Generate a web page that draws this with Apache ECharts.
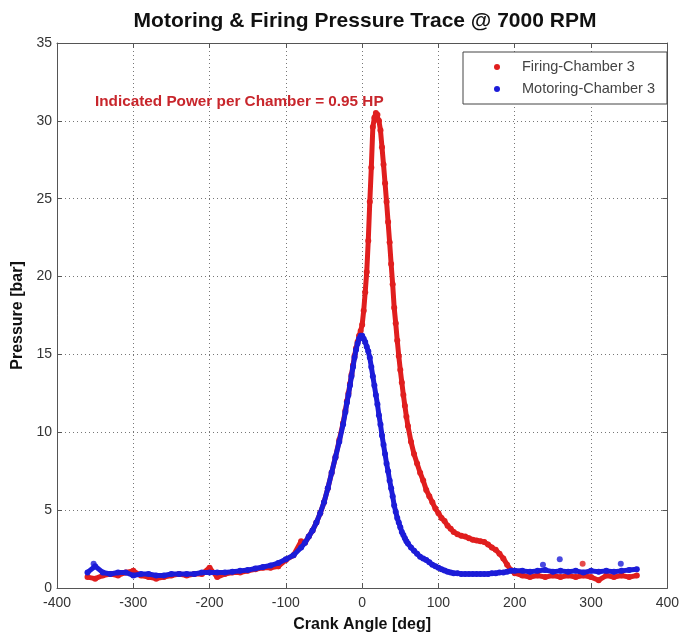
<!DOCTYPE html>
<html>
<head>
<meta charset="utf-8">
<script src="https://cdn.jsdelivr.net/npm/echarts@6/dist/echarts.min.js"></script>
<style>html,body{margin:0;padding:0;background:#fff}#c{width:682px;height:638px}</style>
</head>
<body>
<div id="c"></div>
<script>
// Crank angle samples [deg]
const angles = [
  -360,-350,-340,-330,-320,-310,-300,-290,-280,-270,-260,-250,-240,-230,-220,-210,-200,-190,-180,-170,-160,-150,-140,-130,-120,-110,-100,-90,-80,
  -75,-70,-65,-60,-55,-50,-45,-40,-35,-30,-25,
  -22,-20,-18,-16,-14,-12,-10,-8,-6,-4,-2,0,2,4,6,8,10,12,14,16,18,20,22,24,26,28,30,32,34,36,38,40,42,44,46,48,50,52,54,56,58,60,
  64,68,72,76,80,84,88,92,96,100,104,108,112,116,120,
  125,130,135,140,145,150,155,160,165,170,175,180,185,190,195,200,
  210,220,230,240,250,260,270,280,290,300,310,320,330,340,350,360
];
// Firing-Chamber 3 pressure [bar]
const firing = [
  0.7,0.6,0.8,0.9,0.8,1.0,1.1,0.8,0.7,0.6,0.7,0.8,0.9,0.8,0.9,0.9,1.3,0.7,0.9,1.0,1.0,1.1,1.2,1.3,1.3,1.4,1.8,2.1,3.0,
  2.9,3.3,3.7,4.2,4.8,5.5,6.4,7.4,8.4,9.5,10.6,
  11.4,12.0,12.5,13.1,13.7,14.3,14.9,15.4,15.8,16.2,16.5,16.9,17.8,19.0,20.3,22.3,24.8,27.0,29.6,30.2,30.5,30.4,30.0,29.4,28.3,27.2,26.0,24.8,23.5,22.2,20.8,19.5,18.0,17.0,15.9,14.9,14.0,13.2,12.4,11.7,11.0,10.4,
  9.4,8.6,8.0,7.4,6.9,6.3,5.9,5.5,5.1,4.8,4.5,4.3,4.0,3.8,3.6,
  3.45,3.35,3.3,3.2,3.1,3.05,3.0,2.95,2.8,2.6,2.45,2.2,1.9,1.5,1.15,0.95,
  0.8,0.7,0.8,0.7,0.8,0.7,0.8,0.7,0.8,0.7,0.5,0.8,0.7,0.8,0.7,0.8
];
// Motoring-Chamber 3 pressure [bar]
const motoring = [
  1.0,1.4,1.0,0.9,1.0,1.0,0.8,0.9,0.9,0.8,0.8,0.9,0.9,0.9,0.9,1.0,1.0,1.0,1.0,1.05,1.1,1.15,1.25,1.35,1.45,1.6,1.85,2.1,2.6,
  2.9,3.3,3.7,4.2,4.8,5.5,6.4,7.4,8.4,9.4,10.5,
  11.3,11.9,12.4,13.0,13.6,14.2,14.8,15.3,15.7,16.0,16.2,16.2,16.0,15.8,15.5,15.2,14.8,14.2,13.6,13.0,12.4,11.8,11.1,10.5,9.8,9.2,8.6,8.0,7.5,6.9,6.4,5.9,5.3,4.9,4.5,4.2,3.9,3.6,3.4,3.2,3.0,2.85,
  2.6,2.4,2.2,2.0,1.9,1.8,1.65,1.5,1.4,1.3,1.2,1.13,1.05,1.0,0.95,
  0.95,0.9,0.9,0.9,0.9,0.9,0.9,0.9,0.9,0.95,0.95,1.0,1.0,1.05,1.1,1.1,
  1.1,1.05,1.1,1.15,1.05,1.1,1.05,1.1,1.0,1.1,1.05,1.1,1.05,1.1,1.15,1.2
];
// Isolated stray samples
const firingStrayAngles = [289, -110];
const firingStrayValues = [1.55, 1.4];
const motoringStrayAngles = [-352, 237, 259, 339];
const motoringStrayValues = [1.55, 1.5, 1.85, 1.55];

const xTicks = { min: -400, max: 400, interval: 100 };
const yTicks = { min: 0, max: 35, interval: 5 };

const titleText = 'Motoring & Firing Pressure Trace @ 7000 RPM';
const noteText = 'Indicated Power per Chamber = 0.95 HP';
const seriesNames = ['Firing-Chamber 3', 'Motoring-Chamber 3'];

const RED = '#e01e1e', BLUE = '#1c1cd8';
const pair = (xs, ys) => xs.map((x, i) => [x, ys[i]]);
const FONT = '"Liberation Sans", Arial, sans-serif';

const chart = echarts.init(document.getElementById('c'), null, { renderer: 'canvas' });
const axisCommon = {
  type: 'value',
  axisLine: { show: true, onZero: false, lineStyle: { color: '#555', width: 1 } },
  axisTick: { show: true, inside: true, length: 5, lineStyle: { color: '#555' } },
  axisLabel: { color: '#333', fontSize: 14, fontFamily: FONT }
};
chart.setOption({
  animation: false,
  backgroundColor: '#fff',
  title: {
    text: titleText, left: 360, top: 6, textAlign: 'center',
    textStyle: { fontSize: 21, fontWeight: 'bold', color: '#111', fontFamily: FONT }
  },
  grid: { left: 57, right: 11, top: 43, bottom: 47, show: false },
  legend: {
    data: seriesNames.map(n => ({ name: n, icon: 'circle' })),
    orient: 'vertical', left: 463, top: 52,
    itemWidth: 40, itemHeight: 6, itemGap: 6,
    padding: [7, 12, 7, 31],
    borderColor: '#444', borderWidth: 1, backgroundColor: '#fff',
    textStyle: { fontSize: 14.5, color: '#444', fontFamily: FONT, lineHeight: 16 }
  },
  graphic: [{
    type: 'text', left: 95, top: 94, z: 100,
    style: { text: noteText, fill: '#c8262c', font: 'bold 15.3px ' + FONT }
  }],
  xAxis: [
    Object.assign({}, axisCommon, xTicks, {
      position: 'bottom',
      name: 'Crank Angle [deg]', nameLocation: 'middle', nameGap: 29,
      nameTextStyle: { fontSize: 16, fontWeight: 'bold', color: '#111', fontFamily: FONT },
      axisLabel: Object.assign({}, axisCommon.axisLabel, { margin: 8 }),
      splitLine: { show: true, lineStyle: { color: '#777', type: [1, 3], width: 1 } }
    }),
    Object.assign({}, axisCommon, xTicks, {
      position: 'top', axisLabel: { show: false }, splitLine: { show: false }
    })
  ],
  yAxis: [
    Object.assign({}, axisCommon, yTicks, {
      position: 'left',
      name: 'Pressure [bar]', nameLocation: 'middle', nameGap: 30,
      nameTextStyle: { fontSize: 16, fontWeight: 'bold', color: '#111', fontFamily: FONT },
      axisLabel: Object.assign({}, axisCommon.axisLabel, { margin: 5 }),
      splitLine: { show: true, lineStyle: { color: '#777', type: [1, 3], width: 1 } }
    }),
    Object.assign({}, axisCommon, yTicks, {
      position: 'right', axisLabel: { show: false }, splitLine: { show: false }
    })
  ],
  series: [
    {
      name: seriesNames[0], type: 'line', data: pair(angles, firing),
      symbol: 'circle', symbolSize: 6, showSymbol: true, showAllSymbol: true,
      itemStyle: { color: RED }, lineStyle: { color: RED, width: 5 }, z: 2
    },
    {
      name: 'firingStray', type: 'scatter', data: pair(firingStrayAngles, firingStrayValues),
      symbolSize: 6, itemStyle: { color: RED }, z: 2
    },
    {
      name: seriesNames[1], type: 'line', data: pair(angles, motoring),
      symbol: 'circle', symbolSize: 6, showSymbol: true, showAllSymbol: true,
      itemStyle: { color: BLUE }, lineStyle: { color: BLUE, width: 5 }, z: 3
    },
    {
      name: 'motoringStray', type: 'scatter', data: pair(motoringStrayAngles, motoringStrayValues),
      symbolSize: 6, itemStyle: { color: BLUE }, z: 3
    }
  ]
});
</script>
</body>
</html>
